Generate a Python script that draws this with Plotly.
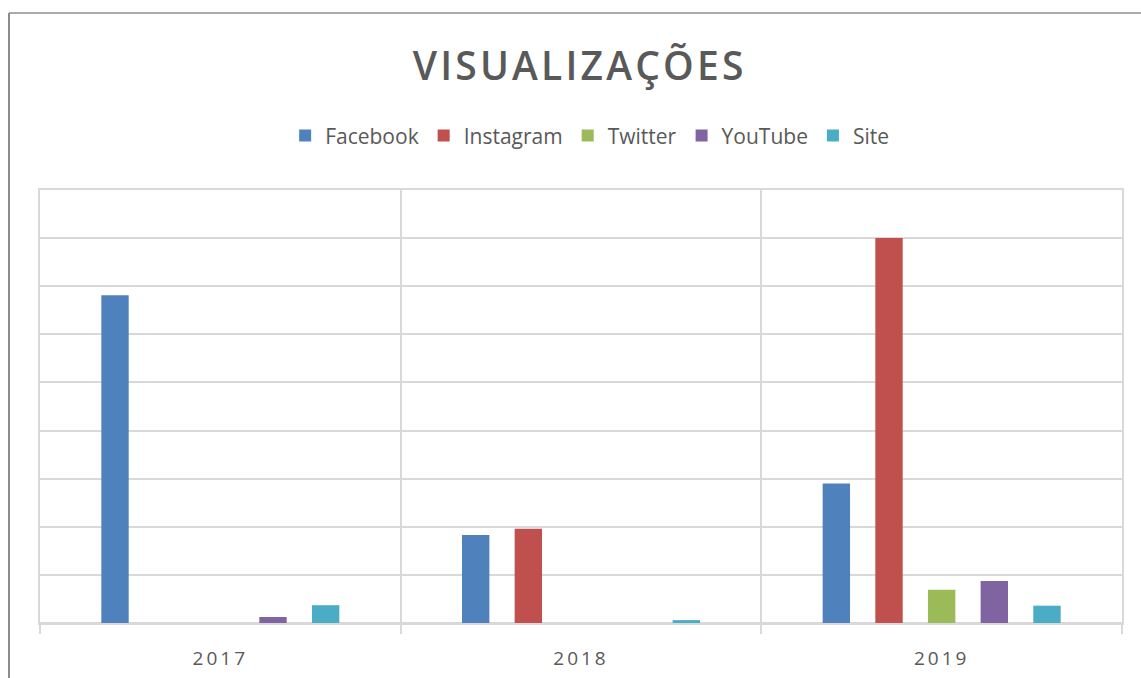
import plotly.graph_objects as go

years = ["2017", "2018", "2019"]
series_names = ["Facebook", "Instagram", "Twitter", "YouTube", "Site"]
facebook = [6.81, 1.83, 2.90]
instagram = [0.0, 1.96, 8.0]
twitter = [0.0, 0.0, 0.69]
youtube = [0.125, 0.0, 0.875]
site = [0.37, 0.06, 0.36]
colors = ["#4F81BD", "#C0504D", "#9BBB59", "#8064A2", "#4BACC6"]

values = [facebook, instagram, twitter, youtube, site]

fig = go.Figure()
for name, vals, col in zip(series_names, values, colors):
    fig.add_trace(go.Bar(
        x=years, y=vals, name=name,
        marker=dict(color=col, line=dict(width=0)),
    ))

grid = "#d9d9d9"
fig.update_layout(
    width=1141, height=678,
    paper_bgcolor="white", plot_bgcolor="white",
    margin=dict(l=40, r=19, t=190, b=55, autoexpand=False),
    barmode="group", bargap=0.27, bargroupgap=0.48,
    font=dict(family="Open Sans", color="#595959"),
    title=dict(text="VISUALIZAÇÕES", x=0.508, xanchor="center",
               y=0.902, yanchor="middle",
               font=dict(family="Open Sans", size=39, weight=600, color="#595959")),
    legend=dict(orientation="h", x=0.508, xanchor="center", y=1.125, yanchor="middle",
                font=dict(size=21, color="#595959"), itemwidth=30,
                traceorder="normal"),
    showlegend=True,
)
fig.update_xaxes(
    type="category", tickson="boundaries", showgrid=True, gridcolor=grid, gridwidth=2,
    ticks="outside", ticklen=9, tickcolor=grid, tickwidth=2, ticklabelstandoff=17,
    showline=True, mirror=True, linecolor=grid, linewidth=2,
    tickfont=dict(size=19, color="#595959"),
)
fig.update_yaxes(
    range=[0, 9], dtick=1, showticklabels=False, showgrid=True, gridcolor=grid, gridwidth=2,
    zeroline=True, zerolinecolor=grid, zerolinewidth=2,
    showline=True, mirror=True, linecolor=grid, linewidth=2,
)
# outer frame lines (chart border)
fig.add_shape(type="line", xref="paper", yref="paper",
              x0=(9 - 40) / 1082, x1=1.1, y0=(623 - 13) / 433, y1=(623 - 13) / 433,
              line=dict(color="#8c8c8c", width=1.5))
fig.add_shape(type="line", xref="paper", yref="paper",
              x0=(9 - 40) / 1082, x1=(9 - 40) / 1082, y0=(623 - 13) / 433, y1=-0.2,
              line=dict(color="#8c8c8c", width=2))

post = """
document.body.style.margin='0';
document.body.style.overflow='hidden';
var gd = document.getElementById('{plot_id}');
function sp(){
  document.querySelectorAll('.gtitle').forEach(function(e){e.style.letterSpacing='3.2px';});
  document.querySelectorAll('.xtick text').forEach(function(e){e.style.letterSpacing='3px';});
}
sp();
gd.on('plotly_afterplot', sp);
"""

fig.write_html("out.html", post_script=post, config={"displayModeBar": False})
